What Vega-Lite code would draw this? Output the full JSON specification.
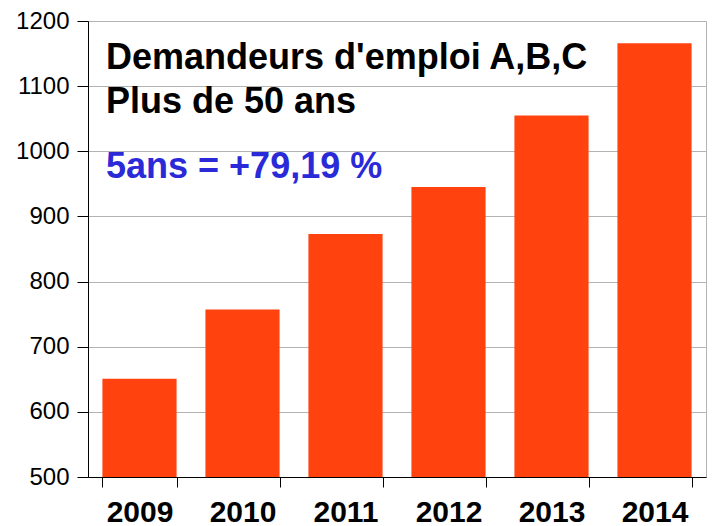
{
  "$schema": "https://vega.github.io/schema/vega-lite/v6.json",
  "width": 618,
  "height": 456,
  "autosize": {"type": "none"},
  "padding": {"left": 88, "top": 21, "right": 11, "bottom": 49},
  "background": "white",
  "config": {
    "font": "Liberation Sans",
    "view": {"stroke": "#b3b3b3", "strokeWidth": 1}
  },
  "title": {
    "text": ["Demandeurs d'emploi A,B,C", "Plus de 50 ans"],
    "subtitle": "5ans = +79,19 %",
    "orient": "top",
    "anchor": "start",
    "frame": "group",
    "dx": 18,
    "offset": -177,
    "font": "Liberation Sans",
    "fontSize": 36,
    "fontWeight": "bold",
    "color": "#000000",
    "lineHeight": 44,
    "subtitleFont": "Liberation Sans",
    "subtitleFontSize": 36,
    "subtitleFontWeight": "bold",
    "subtitleColor": "#2a2ad8",
    "subtitlePadding": 29
  },
  "data": {
    "values": [
      {"year": "2009", "value": 651},
      {"year": "2010", "value": 757},
      {"year": "2011", "value": 873},
      {"year": "2012", "value": 945},
      {"year": "2013", "value": 1055},
      {"year": "2014", "value": 1166}
    ]
  },
  "mark": {"type": "bar", "color": "#ff420e", "clip": true},
  "encoding": {
    "x": {
      "field": "year",
      "type": "ordinal",
      "scale": {"paddingInner": 0.28, "paddingOuter": 0.14},
      "axis": {
        "title": null,
        "labelAngle": 0,
        "labelFont": "Liberation Sans",
        "labelFontSize": 30,
        "labelFontWeight": "bold",
        "labelColor": "#000000",
        "labelPadding": 10,
        "domainColor": "#000000",
        "domainWidth": 1,
        "tickColor": "#000000",
        "tickSize": 10,
        "tickBand": "extent",
        "zindex": 1
      }
    },
    "y": {
      "field": "value",
      "type": "quantitative",
      "scale": {"domain": [500, 1200], "nice": false, "zero": false},
      "axis": {
        "title": null,
        "values": [500, 600, 700, 800, 900, 1000, 1100, 1200],
        "format": "d",
        "labelFont": "Liberation Sans",
        "labelFontSize": 24,
        "labelColor": "#000000",
        "labelPadding": 8,
        "domainColor": "#000000",
        "tickColor": "#000000",
        "tickSize": 11,
        "gridColor": "#b3b3b3",
        "gridWidth": 1
      }
    }
  }
}
